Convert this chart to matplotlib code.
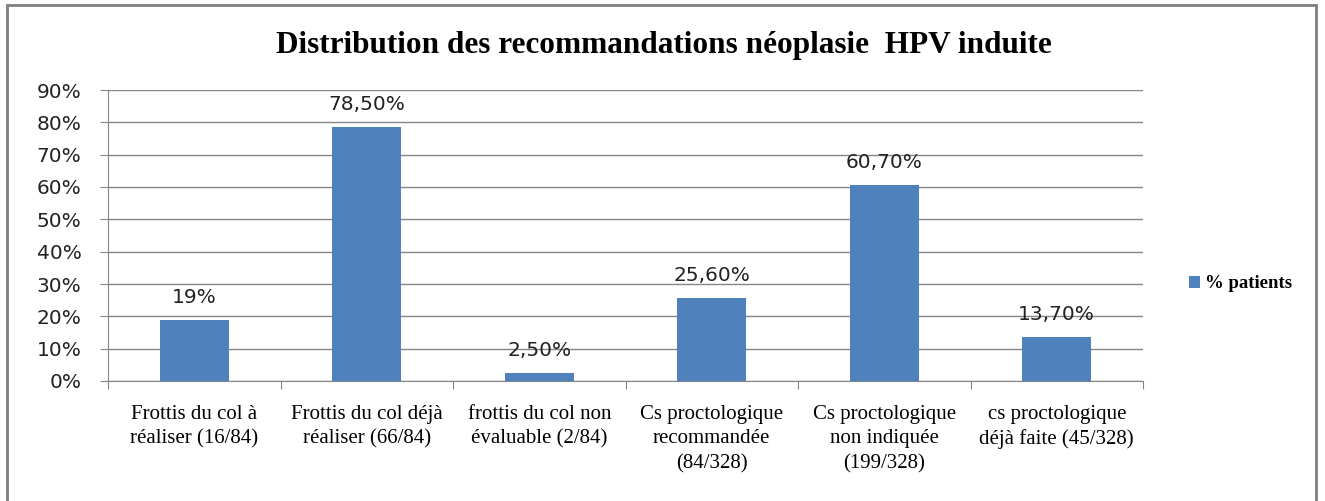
import matplotlib
matplotlib.use('Agg')
import matplotlib.pyplot as plt
from matplotlib.patches import Rectangle
import numpy as np

# ── données ─────────────────────────────────────────────
categories = [
    'Frottis du col à\nréaliser (16/84)',
    'Frottis du col déjà\nréaliser (66/84)',
    'frottis du col non\névaluable (2/84)',
    'Cs proctologique\nrecommandée\n(84/328)',
    'Cs proctologique\nnon indiquée\n(199/328)',
    'cs proctologique\ndéjà faite (45/328)',
]
values = [19, 78.5, 2.5, 25.6, 60.7, 13.7]
value_labels = ['19%', '78,50%', '2,50%', '25,60%', '60,70%', '13,70%']
yticks = [0, 10, 20, 30, 40, 50, 60, 70, 80, 90]
series_name = '% patients'

bar_color = '#4F81BD'
grid_color = '#868686'
serif = ['Liberation Serif', 'DejaVu Serif']
sans = ['DejaVu Sans']

fig = plt.figure(figsize=(13.25, 5.01), dpi=100)
ax = fig.add_axes([108 / 1325, 1 - 381 / 501, (1143 - 108) / 1325, (381 - 90) / 501])

x = np.arange(len(categories))
bars = ax.bar(x, values, width=0.4, color=bar_color, zorder=3, label=series_name)

for xi, v, lab in zip(x, values, value_labels):
    ax.text(xi, v + 4, lab, ha='center', va='bottom', fontsize=14.5,
            family=sans, color='#222222')

ax.set_xlim(-0.5, len(categories) - 0.5)
ax.set_ylim(0, 90)
ax.set_yticks(yticks)
ax.set_yticklabels([f'{t}%' for t in yticks], family=sans, fontsize=14.5, color='#222222')
ax.yaxis.grid(True, color=grid_color, lw=1, zorder=0)

# ticks entre catégories
ax.set_xticks(np.arange(len(categories) + 1) - 0.5)
ax.set_xticklabels([])
ax.set_xticks(x, minor=True)
ax.set_xticklabels(categories, minor=True, family=serif, fontsize=15, linespacing=1.4)
ax.tick_params(axis='x', which='minor', length=0, pad=17)
ax.tick_params(axis='x', which='major', length=6, color=grid_color, direction='out')
ax.tick_params(axis='y', length=6, color=grid_color, direction='out', pad=13)

for s in ['top', 'right']:
    ax.spines[s].set_visible(False)
for s in ['left', 'bottom']:
    ax.spines[s].set_color(grid_color)

fig.text(664 / 1325, 1 - 45 / 501, 'Distribution des recommandations néoplasie  HPV induite',
         ha='center', va='center', fontsize=22.5, fontweight='bold', family=serif)

# légende
fig.legend(handles=[bars], labels=[series_name], loc='center left',
           bbox_to_anchor=(1172 / 1325, 1 - 284 / 501), frameon=False,
           handlelength=0.6, handleheight=0.6, handletextpad=0.25,
           prop={'family': serif, 'size': 13.5, 'weight': 'bold'})

# cadre du graphique
fig.patches.append(Rectangle((7 / 1325, -0.1), (1316 - 7) / 1325, 1.1 - 5 / 501,
                             transform=fig.transFigure, fill=False,
                             edgecolor='#7f7f7f', lw=2))

fig.savefig('out.png', dpi=100)
